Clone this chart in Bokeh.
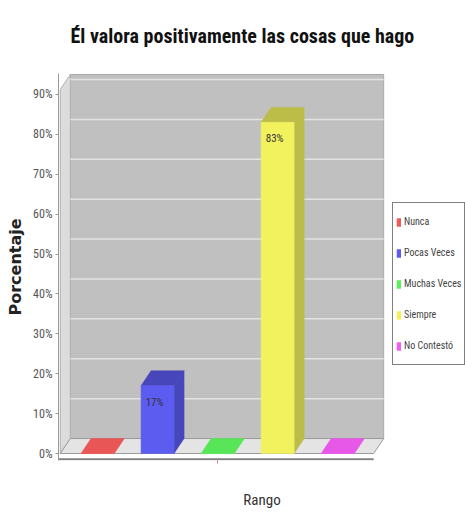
from bokeh.plotting import figure
from bokeh.models import Range1d, FixedTicker, PrintfTickFormatter, Legend, LegendItem, ColumnDataSource
from bokeh.core.properties import value
from bokeh.embed import file_html
from bokeh.resources import INLINE

# ---------------- data ----------------
categories = ["Nunca", "Pocas Veces", "Muchas Veces", "Siempre", "No Contestó"]
percentages = [0, 17, 0, 83, 0]
value_labels = ["", "17%", "", "83%", ""]
bar_colors = ["#f25a5a", "#5c5cf0", "#5cf05c", "#f2f25e", "#f25cf2"]
y_ticks = [0, 10, 20, 30, 40, 50, 60, 70, 80, 90]
title_text = "Él valora positivamente las cosas que hago"
x_title = "Rango"
y_title = "Porcentaje"

# ---------------- style / geometry ----------------
NARROW = "Roboto Condensed, DejaVu Sans Condensed, Roboto"
BAR_W = 0.55      # bar width in category units
DX = 0.167        # 3D depth (x, category units)
DY = 3.75         # 3D depth (y, percent units)
X_LO, X_HI = -0.62, 4.6
WALL_TOP = 95.0
X_START, X_END = -0.65, 6.13
Y_START, Y_END = -1.75, 95.25


def shade(hex_color, f):
    h = hex_color.lstrip("#")
    r, g, b = (int(h[i:i + 2], 16) for i in (0, 2, 4))
    return "#%02x%02x%02x" % (int(r * f), int(g * f), int(b * f))


p = figure(width=465, height=517, output_backend="svg", toolbar_location=None,
           x_range=Range1d(X_START, X_END), y_range=Range1d(Y_START, Y_END),
           min_border_left=58, min_border_right=0, min_border_top=72, min_border_bottom=57)
p.outline_line_color = None
p.xgrid.visible = False
p.ygrid.visible = False
p.background_fill_color = "white"

# title
p.title.text = title_text
p.title.text_font = NARROW
p.title.text_font_style = "bold"
p.title.text_font_size = "20px"
p.title.text_color = "#111111"
p.title.align = "left"
p.title.offset = 12
p.title.vertical_align = "top"
p.title.standoff = 47

# ---------------- 3D walls ----------------
p.patch([X_LO + DX, X_HI + DX, X_HI + DX, X_LO + DX], [DY, DY, WALL_TOP, WALL_TOP],
        fill_color="#c0c0c0", line_color="#a8a8a8", line_width=1)
p.patch([X_LO, X_LO + DX, X_LO + DX, X_LO], [0, DY, WALL_TOP, WALL_TOP - DY],
        fill_color="#dcdcdc", line_color="#b0b0b0", line_width=1)
p.patch([X_LO, X_HI, X_HI + DX, X_LO + DX], [0, 0, DY, DY],
        fill_color="#e4e4e4", line_color="#9a9a9a", line_width=1)
grid_vals = [t for t in y_ticks if t > 0]
p.segment(x0=[X_LO + DX] * len(grid_vals), y0=[t + DY for t in grid_vals],
          x1=[X_HI + DX] * len(grid_vals), y1=[t + DY for t in grid_vals],
          line_color="#e2e2e2", line_width=1.5)
# front base line (the category axis line, only under the chart)
p.segment(x0=[X_START], y0=[Y_START + 0.3], x1=[X_HI], y1=[Y_START + 0.3],
          line_color="#808080", line_width=2)

# ---------------- bars ----------------
xc = list(range(len(categories)))
lefts = [x - BAR_W / 2 for x in xc]
rights = [x + BAR_W / 2 for x in xc]
dark = [shade(c, 0.78 if v > 0 else 0.96) for c, v in zip(bar_colors, percentages)]

side_src = ColumnDataSource(dict(
    xs=[[r, r + DX, r + DX, r] for r in rights],
    ys=[[0, DY, v + DY, v] for v in percentages],
    color=dark))
top_src = ColumnDataSource(dict(
    xs=[[l, l + DX, r + DX, r] for l, r in zip(lefts, rights)],
    ys=[[v, v + DY, v + DY, v] for v in percentages],
    color=dark))
p.patches("xs", "ys", source=side_src, fill_color="color", line_color="color", line_width=0.5)
p.patches("xs", "ys", source=top_src, fill_color="color", line_color="color", line_width=0.5)

src = ColumnDataSource(dict(x=xc, top=percentages, color=bar_colors, cat=categories, lab=value_labels))
front = p.vbar(x="x", top="top", bottom=0, width=BAR_W, source=src,
               fill_color="color", line_color="color", line_width=0.5)

p.text(x="x", y="top", text="lab", source=src, text_font=value(NARROW), text_font_size="11px",
       text_color="#333333", text_align="center", text_baseline="top", x_offset=-3, y_offset=10)

# ---------------- axes ----------------
p.yaxis.ticker = FixedTicker(ticks=y_ticks)
p.yaxis.formatter = PrintfTickFormatter(format="%d%%")
p.yaxis.major_label_text_font = NARROW
p.yaxis.major_label_text_font_size = "12px"
p.yaxis.major_label_text_color = "#555555"
p.yaxis.major_label_standoff = 3
p.yaxis.major_tick_in = 0
p.yaxis.major_tick_out = 3
p.yaxis.major_tick_line_color = "#999999"
p.yaxis.minor_tick_line_color = None
p.yaxis.axis_line_color = "#999999"
p.yaxis.axis_label = y_title
p.yaxis.axis_label_text_font = "DejaVu Sans"
p.yaxis.axis_label_text_font_style = "bold"
p.yaxis.axis_label_text_font_size = "16px"
p.yaxis.axis_label_text_color = "#222222"
p.yaxis.axis_label_standoff = 5

p.xaxis.ticker = FixedTicker(ticks=[2])
p.xaxis.major_label_overrides = {2: ""}
p.xaxis.major_label_text_font_size = "1px"
p.xaxis.major_tick_in = 0
p.xaxis.major_tick_out = 3
p.xaxis.major_tick_line_color = "#e07070"
p.xaxis.minor_tick_line_color = None
p.xaxis.axis_line_color = None
p.xaxis.axis_label = x_title
p.xaxis.axis_label_text_font = NARROW
p.xaxis.axis_label_text_font_style = "normal"
p.xaxis.axis_label_text_font_size = "15px"
p.xaxis.axis_label_text_color = "#333333"
p.xaxis.axis_label_standoff = 27

# ---------------- legend ----------------
legend = Legend(items=[LegendItem(label=c, renderers=[front], index=i) for i, c in enumerate(categories)],
                location=(334, 95), orientation="vertical",
                glyph_width=5, glyph_height=10, label_standoff=3,
                label_height=31, spacing=0, padding=3, margin=0,
                label_text_font=NARROW, label_text_font_size="10px", label_text_color="#444444",
                border_line_color="black", border_line_width=1, background_fill_color="white",
                background_fill_alpha=1)
p.add_layout(legend, "center")

open("out.html", "w").write(file_html(p, INLINE))
